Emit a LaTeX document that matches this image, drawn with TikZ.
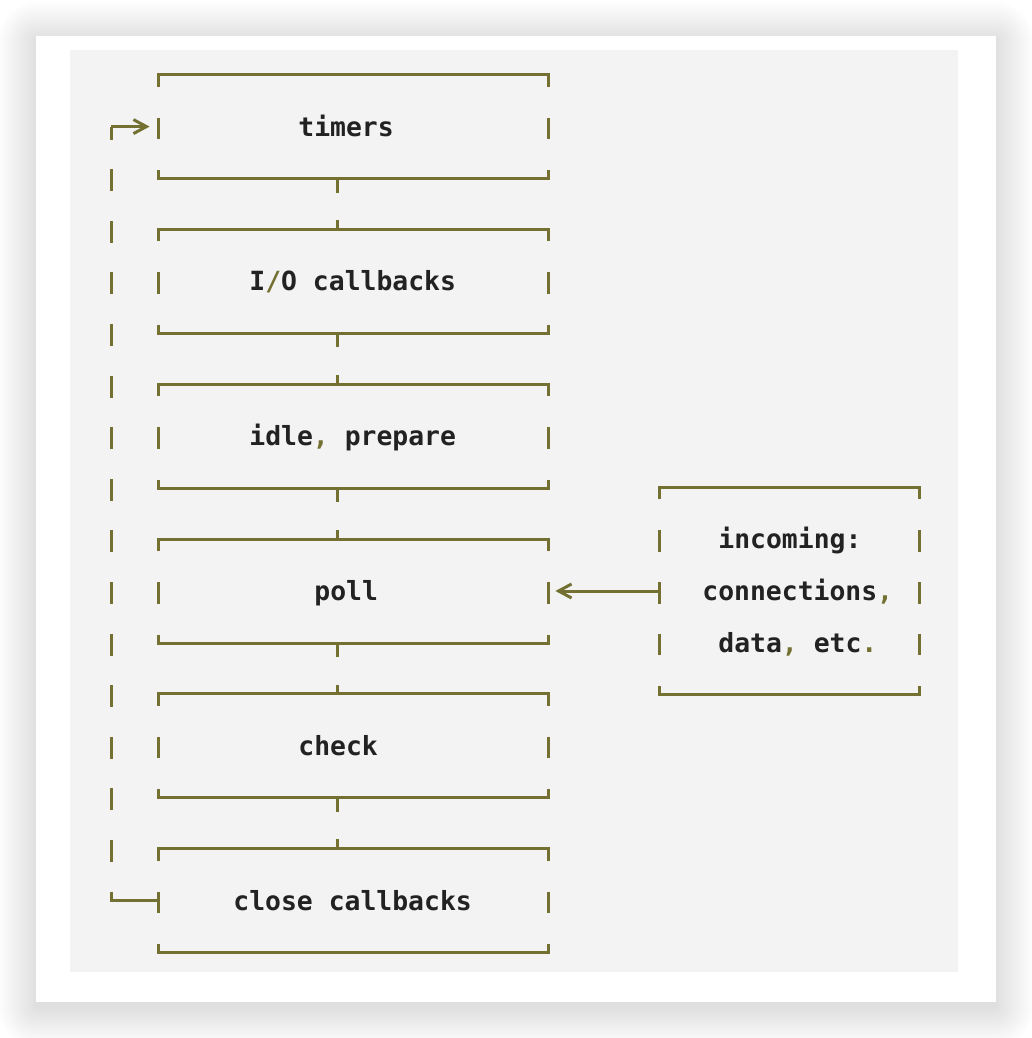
\documentclass[tikz,border=0pt]{standalone}
\usepackage{fontspec}
\setmonofont{DejaVu Sans Mono}
\usetikzlibrary{arrows.meta}

\definecolor{wirecol}{RGB}{115,112,50}
\definecolor{inkcol}{RGB}{34,34,34}
\definecolor{panelcol}{RGB}{243,243,243}

\tikzset{
  wire/.style={draw=wirecol, line width=1.5pt},
  phase/.style={draw=none, inner sep=0pt, minimum width=194.5pt, minimum height=51.6pt},
  lbl/.style={inner sep=0pt, anchor=base west, text=inkcol,
    font=\ttfamily\bfseries\fontsize{13.2}{15}\selectfont},
  chevron/.style={-{Straight Barb[length=6.5pt,width=7pt]}},
}
\newcommand{\pct}[1]{\textcolor{wirecol}{#1}}

\begin{document}
\begin{tikzpicture}[x=0.5pt,y=-0.5pt]
\clip (0,0) rectangle (1032,1038);

%HINTERGRUND, KARTE MIT SCHATTEN
\fill[white] (0,0) rectangle (1032,1038);
\foreach \i in {1,...,16}
  \fill[black, opacity=0.0075, rounded corners=1.25pt*\i]
    (38-2.5*\i,42-2.5*\i) rectangle (994+2.5*\i,1006+2.5*\i);
\fill[white] (36,36) rectangle (996,1002);
\fill[panelcol] (70,50) rectangle (958,972);

%PHASEN (von oben)
\node[phase] (timers) at (353.5,126.6) {};
\node[phase] (io)     at (353.5,281.4) {};
\node[phase] (idle)   at (353.5,436.2) {};
\node[phase] (poll)   at (353.5,591.0) {};
\node[phase] (check)  at (353.5,745.8) {};
\node[phase] (close)  at (353.5,900.6) {};

\foreach \n in {timers,io,idle,poll,check,close}{
  \draw[wire] (\n.north west) ++(0,12) -- ++(0,-12) -- (\n.north east) -- ++(0,12);
  \draw[wire] (\n.south west) ++(0,-8.5) -- ++(0,8.5) -- (\n.south east) -- ++(0,-8.5);
  \draw[wire] (\n.west) ++(0,-9) -- ++(0,21.5);
  \draw[wire] (\n.east) ++(0,-9) -- ++(0,21.5);
}

%TEXTE DER PHASEN
\node[lbl] (timers-txt) at (298,136.1) {timers};
\node[lbl] (io-txt)     at (249,290.9) {I\pct{/}O callbacks};
\node[lbl] (idle-txt)   at (249,445.7) {idle\pct{,} prepare};
\node[lbl] (poll-txt)   at (314,600.5) {poll};
\node[lbl] (check-txt)  at (298,755.3) {check};
\node[lbl] (close-txt)  at (233,910.1) {close callbacks};

%VERBINDUNGEN ZWISCHEN DEN PHASEN
\coordinate (col) at (337,0);
\foreach \a/\b in {timers/io,io/idle,idle/poll,poll/check,check/close}
  \draw[wire, dash pattern=on 7pt off 13.8pt on 5pt] (\a.south -| col) -- (\b.north -| col);

%SCHLEIFE LINKS
\coordinate (loop) at (111,0);
\draw[wire] (close.west -| loop) ++(0,-9) -- ++(0,9) -- (close.west);
\draw[wire, dash pattern=on 11pt off 14.8pt] (close.west -| loop) ++(0,-38.6) -- (timers.west -| loop);
\draw[wire, chevron, shorten >=4.5pt] (timers.west -| loop) -- (timers.west);

%EINGANG RECHTS
\node[draw=none, inner sep=0pt, minimum width=129.5pt, minimum height=103.2pt] (incoming) at (789.5,591) {};
\draw[wire] (incoming.north west) ++(0,12) -- ++(0,-12) -- (incoming.north east) -- ++(0,12);
\draw[wire] (incoming.south west) ++(0,-8.5) -- ++(0,8.5) -- (incoming.south east) -- ++(0,-8.5);
\foreach \r in {-51.6,0,51.6}{
  \draw[wire] (incoming.west) ++(0,\r-9) -- ++(0,21.5);
  \draw[wire] (incoming.east) ++(0,\r-9) -- ++(0,21.5);
}
\node[lbl] (incoming-txt) at (718,548.9) {incoming:};
\node[lbl] (conn-txt)     at (702,600.5) {connections\pct{,}};
\node[lbl] (data-txt)     at (718,652.1) {data\pct{,} etc\pct{.}};

\draw[wire, chevron, shorten >=3.5pt] (incoming.west) -- (poll.east);

\end{tikzpicture}
\end{document}
